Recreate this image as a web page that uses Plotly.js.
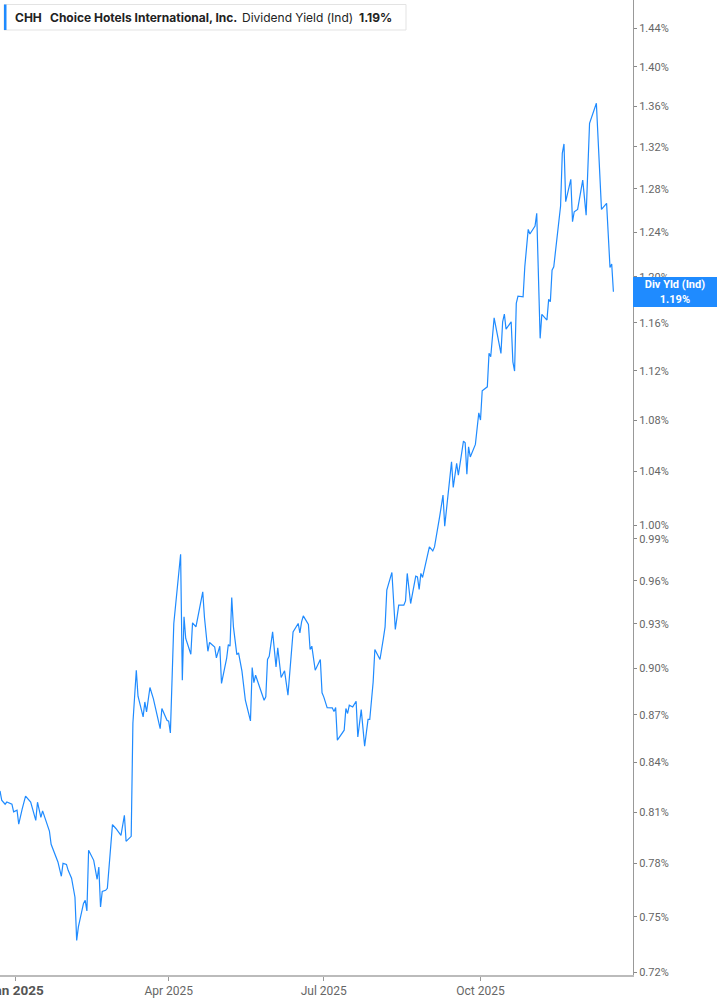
<!DOCTYPE html>
<html>
<head>
<meta charset="utf-8">
<script src="https://cdn.plot.ly/plotly-3.0.1.min.js"></script>
<style>
html,body{margin:0;padding:0;background:#fff;}
#chart{width:717px;height:1005px;}
</style>
</head>
<body>
<div id="chart"></div>
<script>
const dates = [
'2024-12-23','2024-12-24','2024-12-26','2024-12-27','2024-12-30','2024-12-31',
'2025-01-02','2025-01-03','2025-01-05','2025-01-07','2025-01-10','2025-01-13','2025-01-14','2025-01-16','2025-01-17',
'2025-01-21','2025-01-22','2025-01-23','2025-01-26','2025-01-28','2025-01-29','2025-01-31','2025-02-01','2025-02-03',
'2025-02-05','2025-02-06','2025-02-07','2025-02-10','2025-02-11','2025-02-12','2025-02-13','2025-02-16','2025-02-18',
'2025-02-19','2025-02-20','2025-02-21','2025-02-23','2025-02-24','2025-02-27','2025-03-01','2025-03-04','2025-03-06',
'2025-03-07','2025-03-10','2025-03-11','2025-03-13','2025-03-14','2025-03-17','2025-03-18','2025-03-19','2025-03-21',
'2025-03-23','2025-03-26','2025-03-27','2025-03-28','2025-03-31','2025-04-01','2025-04-02','2025-04-04','2025-04-08',
'2025-04-09','2025-04-10','2025-04-11','2025-04-14','2025-04-15','2025-04-17','2025-04-21','2025-04-22','2025-04-24',
'2025-04-25','2025-04-28','2025-04-29','2025-05-01','2025-05-02','2025-05-05','2025-05-06','2025-05-07','2025-05-08',
'2025-05-09','2025-05-11','2025-05-12','2025-05-14','2025-05-16','2025-05-19','2025-05-20','2025-05-21','2025-05-22',
'2025-05-27','2025-05-28','2025-05-29','2025-05-30','2025-06-01','2025-06-03','2025-06-04','2025-06-06','2025-06-08',
'2025-06-10','2025-06-11','2025-06-13','2025-06-16','2025-06-17','2025-06-18','2025-06-19','2025-06-22','2025-06-23',
'2025-06-24','2025-06-26','2025-06-29','2025-06-30','2025-07-01','2025-07-03','2025-07-06','2025-07-07','2025-07-08',
'2025-07-09','2025-07-13','2025-07-14','2025-07-15','2025-07-16','2025-07-18','2025-07-20','2025-07-21','2025-07-23',
'2025-07-25','2025-07-27','2025-07-28','2025-07-30','2025-07-31','2025-08-03','2025-08-05','2025-08-06','2025-08-07',
'2025-08-10','2025-08-12','2025-08-14','2025-08-17','2025-08-18','2025-08-19','2025-08-21','2025-08-24','2025-08-25',
'2025-08-26','2025-08-27','2025-08-28','2025-09-01','2025-09-03','2025-09-04','2025-09-07','2025-09-09','2025-09-10',
'2025-09-12','2025-09-14','2025-09-15','2025-09-17','2025-09-18','2025-09-21','2025-09-22','2025-09-23','2025-09-24',
'2025-09-25','2025-09-28','2025-09-30','2025-10-01','2025-10-02','2025-10-05','2025-10-06','2025-10-07','2025-10-09',
'2025-10-13','2025-10-14','2025-10-15','2025-10-16','2025-10-19','2025-10-20','2025-10-21','2025-10-22','2025-10-23',
'2025-10-26','2025-10-27','2025-10-29','2025-10-30','2025-11-02','2025-11-03','2025-11-05','2025-11-06','2025-11-09',
'2025-11-10','2025-11-11','2025-11-12','2025-11-13','2025-11-17','2025-11-18','2025-11-19','2025-11-20','2025-11-23',
'2025-11-24','2025-11-25','2025-11-27','2025-11-30','2025-12-02','2025-12-04','2025-12-08','2025-12-11','2025-12-14',
'2025-12-16','2025-12-17','2025-12-18'
];

const yieldPct = [
0.8227,0.8171,0.8147,0.8160,0.8147,0.8101,
0.8111,0.8028,0.8117,0.8196,0.8160,0.8051,0.8159,0.8069,0.8107,
0.7988,0.7911,0.7888,0.7809,0.7727,0.7801,0.7795,0.7761,0.7716,
0.7609,0.7372,0.7445,0.7575,0.7592,0.7533,0.7876,0.7818,0.7710,
0.7780,0.7555,0.7642,0.7648,0.7659,0.8026,0.8003,0.7963,0.8081,
0.7928,0.7957,0.8646,0.8989,0.8819,0.8686,0.8782,0.8718,0.8876,
0.8804,0.8644,0.8612,0.8740,0.8665,0.8659,0.8585,0.9303,0.9788,
0.8923,0.9348,0.9201,0.9095,0.9307,0.9280,0.9521,0.9344,0.9115,
0.9174,0.9144,0.9071,0.9149,0.8902,0.9067,0.9160,0.9149,0.9482,
0.9280,0.9093,0.9104,0.8983,0.8793,0.8661,0.9007,0.8908,0.8956,
0.8793,0.8815,0.9060,0.9082,0.9246,0.9011,0.9138,0.8941,0.8985,
0.8826,0.8956,0.9246,0.9303,0.9239,0.9314,0.9355,0.9296,0.9127,
0.9149,0.8989,0.9060,0.8841,0.8815,0.8746,0.8744,0.8720,0.8746,
0.8539,0.8602,0.8740,0.8708,0.8761,0.8750,0.8787,0.8559,0.8733,
0.8501,0.8670,0.8670,0.8912,0.9127,0.9060,0.9201,0.9280,0.9533,
0.9658,0.9262,0.9429,0.9429,0.9458,0.9651,0.9440,0.9632,0.9627,
0.9538,0.9651,0.9623,0.9841,0.9812,0.9841,1.0060,1.0222,0.9992,
1.0214,1.0475,1.0280,1.0463,1.0373,1.0635,1.0622,1.0381,1.0591,
1.0513,1.0610,1.0859,1.0801,1.1036,1.1068,1.1343,1.1315,1.1643,
1.1343,1.1609,1.1675,1.1547,1.1609,1.1273,1.1197,1.1767,1.1830,
1.1824,1.2088,1.2424,1.2382,1.2454,1.2571,1.1469,1.1673,1.1624,
1.1802,1.1781,1.2058,1.2088,1.2639,1.3138,1.3228,1.2679,1.2889,
1.2494,1.2586,1.2608,1.2882,1.2555,1.3430,1.3629,1.2608,1.2664,
1.2082,1.2112,1.1868
];

const yTickVals = [0.72,0.75,0.78,0.81,0.84,0.87,0.90,0.93,0.96,0.99,1.00,1.04,1.08,1.12,1.16,1.20,1.24,1.28,1.32,1.36,1.40,1.44];
const yTickText = yTickVals.map(v => v.toFixed(2) + '%');
const xTickVals = ['2025-01-01','2025-04-01','2025-07-01','2025-10-01'];
const xTickText = ['<b><span style="font-size:13.5px;color:#555">Jan 2025</span></b>','Apr 2025','Jul 2025','Oct 2025'];

const ticker = 'CHH';
const company = 'Choice Hotels International, Inc.';
const metric = 'Dividend Yield (Ind)';
const lastLabel = 'Div Yld (Ind)';
const lastValue = yieldPct[yieldPct.length - 1];
const lastText = lastValue.toFixed(2) + '%';

const blue = '#1f8bff';
const tickFont = {family: 'Liberation Sans Narrow, Roboto, Arial, sans-serif', size: 12, color: '#666'};
const headFont = {family: 'Inter, Roboto, Arial, sans-serif', size: 12, color: '#222'};

const trace = {
  type: 'scatter', mode: 'lines',
  x: dates, y: yieldPct,
  line: {color: blue, width: 1.2},
  hoverinfo: 'skip'
};

const H = 975, W = 633;
const py = px => 1 - px / H;
const pxX = px => px / W;

const layout = {
  width: 717, height: 1005,
  margin: {l: 0, r: 84, t: 0, b: 30, pad: 0},
  paper_bgcolor: '#fff', plot_bgcolor: '#fff',
  showlegend: false,
  xaxis: {
    type: 'date',
    range: ['2024-12-23', '2025-12-29 12:00'],
    tickmode: 'array', tickvals: xTickVals, ticktext: xTickText,
    ticks: 'outside', ticklen: 4, tickwidth: 1, tickcolor: '#999',
    ticklabeloverflow: 'allow',
    showline: true, linecolor: '#bbb', linewidth: 2,
    showgrid: false, zeroline: false,
    tickfont: tickFont
  },
  yaxis: {
    type: 'log', side: 'right',
    range: [-0.14346, 0.16740],
    tickmode: 'array', tickvals: yTickVals, ticktext: yTickText,
    ticks: 'outside', ticklen: 3, tickwidth: 1, tickcolor: '#888',
    showline: true, linecolor: '#999', linewidth: 1,
    showgrid: false, zeroline: false,
    tickfont: Object.assign({}, tickFont, {size: 11})
  },
  shapes: [
    {type: 'rect', xref: 'paper', yref: 'paper', x0: pxX(4), x1: pxX(406), y0: py(30), y1: py(4.5),
     line: {color: '#e3e3e3', width: 1}, fillcolor: '#fff', layer: 'above'},
    {type: 'rect', xref: 'paper', yref: 'paper', x0: pxX(4), x1: pxX(6.5), y0: py(30), y1: py(4.5),
     line: {width: 0}, fillcolor: blue, layer: 'above'}
  ],
  annotations: [
    {xref: 'paper', yref: 'paper', x: pxX(13), y: py(17.5), xanchor: 'left', yanchor: 'middle',
     text: '<b>' + ticker + '</b>', showarrow: false, font: headFont},
    {xref: 'paper', yref: 'paper', x: pxX(48), y: py(17.5), xanchor: 'left', yanchor: 'middle',
     text: '<b>' + company + '</b>', showarrow: false, font: headFont},
    {xref: 'paper', yref: 'paper', x: pxX(240), y: py(17.5), xanchor: 'left', yanchor: 'middle',
     text: metric, showarrow: false, font: headFont},
    {xref: 'paper', yref: 'paper', x: pxX(357), y: py(17.5), xanchor: 'left', yanchor: 'middle',
     text: '<b>' + lastText + '</b>', showarrow: false, font: headFont},
    {xref: 'paper', yref: 'y', x: 1, y: Math.log10(lastValue), xanchor: 'left', yanchor: 'middle',
     text: '<b>' + lastLabel + '</b><br><b>' + lastText + '</b>', showarrow: false,
     bgcolor: blue, borderpad: 1, borderwidth: 0, width: 82, height: 28, align: 'center',
     font: {family: 'Roboto, Arial, sans-serif', size: 11, color: '#fff'}}
  ]
};

Plotly.newPlot('chart', [trace], layout, {displayModeBar: false, staticPlot: true});
</script>
</body>
</html>
